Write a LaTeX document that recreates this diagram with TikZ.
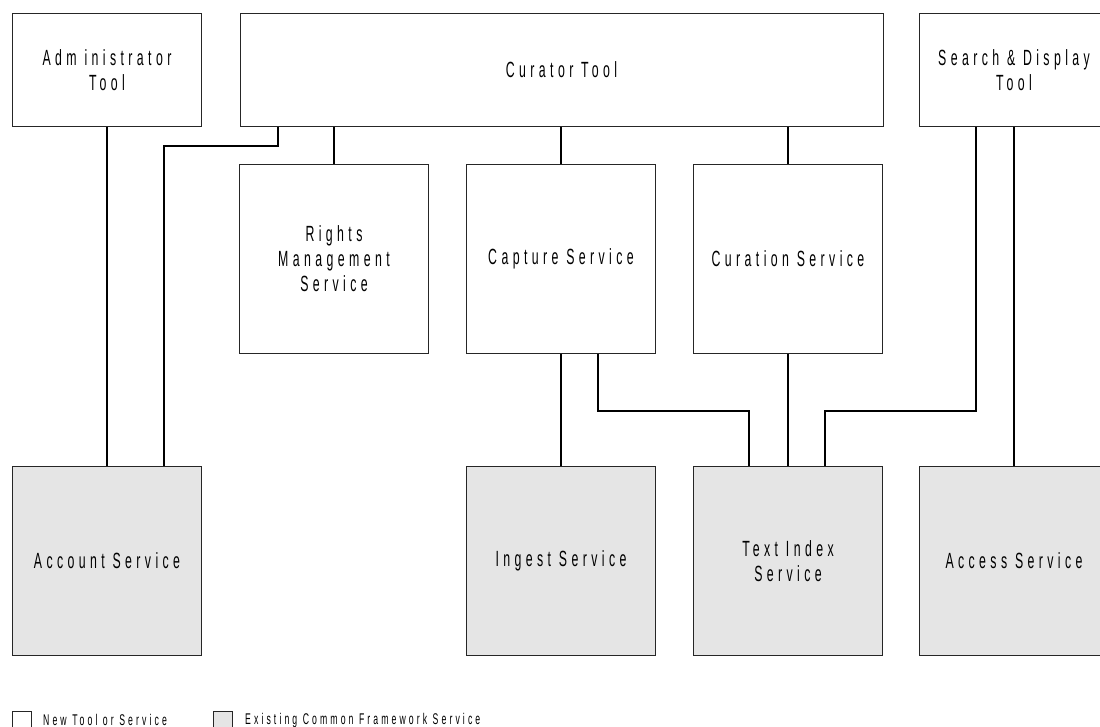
\documentclass[tikz,border=0pt]{standalone}
\usepackage{fontspec}
\setmainfont{Liberation Sans}[FakeStretch=0.56,LetterSpace=20]
\begin{document}
\begin{tikzpicture}[x=1pt,y=-1pt,
  box/.style={draw=black!85,line width=1pt,inner sep=0pt,align=center,
     font=\fontsize{22}{25}\selectfont},
  newbox/.style={box,fill=white},
  oldbox/.style={box,fill=black!10},
  conn/.style={draw=black,line width=2pt},
  legtext/.style={anchor=west,inner sep=0pt,font=\fontsize{15.5}{17}\selectfont}]
\useasboundingbox (0,0) rectangle (1100,727);
\clip (0,0) rectangle (1100,727);
% top tools
\node[newbox,minimum width=189pt,minimum height=113pt] (admin) at (107,70) {Adm inistrator\\Tool};
\node[newbox,minimum width=643pt,minimum height=113pt] (curator) at (561.5,70) {Curator Tool};
\node[newbox,minimum width=189pt,minimum height=113pt] (search) at (1014,70) {Search \& Display\\Tool};
% new services
\node[newbox,minimum width=189pt,minimum height=189pt] (rights) at (334,259) {Rights\\Management\\Service};
\node[newbox,minimum width=189pt,minimum height=189pt] (capture) at (561,259) {Capture Service};
\node[newbox,minimum width=189pt,minimum height=189pt] (curation) at (788,259) {Curation Service};
% existing services
\node[oldbox,minimum width=189pt,minimum height=189pt] (account) at (107,561) {Account Service};
\node[oldbox,minimum width=189pt,minimum height=189pt] (ingest) at (561,561) {Ingest Service};
\node[oldbox,minimum width=189pt,minimum height=189pt] (textidx) at (788,561) {Text Index\\Service};
\node[oldbox,minimum width=189pt,minimum height=189pt] (access) at (1014,561) {Access Service};
% connectors
\draw[conn] (admin.south) -- (account.north);
\draw[conn] ([xshift=38pt]curator.south west) -- ++(0,19.5) -| ([xshift=57pt]account.north);
\draw[conn] (rights.north) -- (rights.north |- curator.south);
\draw[conn] (capture.north) -- (capture.north |- curator.south);
\draw[conn] (curation.north) -- (curation.north |- curator.south);
\draw[conn] (capture.south) -- (ingest.north);
\draw[conn] ([xshift=37pt]capture.south) -- ++(0,56.5) -| ([xshift=-39pt]textidx.north);
\draw[conn] (curation.south) -- (textidx.north);
\draw[conn] ([xshift=-38pt]search.south) -- ++(0,283.5) -| ([xshift=37pt]textidx.north);
\draw[conn] (search.south) -- (access.north);
% legend
\node[newbox,minimum width=19pt,minimum height=18pt] (lnew) at (22,720) {};
\node[legtext] (lnewt) at (43,720) {New Tool or Service};
\node[oldbox,minimum width=19pt,minimum height=18pt] (lold) at (223,720) {};
\node[legtext] (loldt) at (245,720) {Existing Common Framework Service};
\end{tikzpicture}
\end{document}
